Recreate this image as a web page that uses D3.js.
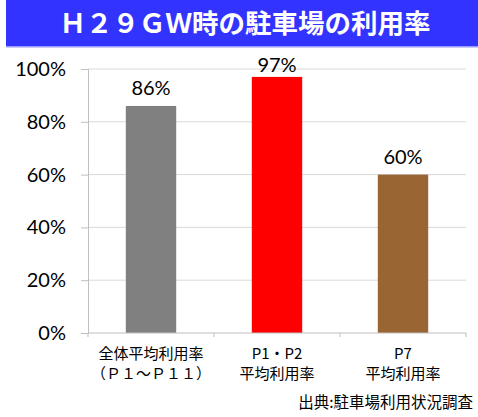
<!DOCTYPE html>
<html>
<head>
<meta charset="utf-8">
<script src="https://cdn.jsdelivr.net/npm/d3@7"></script>
<style>
  body { margin: 0; background: #fff; }
  svg text { font-family: Lato, "Open Sans", sans-serif; }
  .jp { font-family: "Noto Sans CJK JP", sans-serif; }
</style>
</head>
<body>
<div class="canvas"></div>
<script>
const categories = ['all', 'p12', 'p7'];
const labelLines = [
    ['全体平均利用率', '（Ｐ１～Ｐ１１）'],
    ['P1・P2', '平均利用率'],
    ['P7', '平均利用率']
];
const values = [86, 97, 60];
const barColors = ['#808080', '#ff0000', '#996633'];
const yTicks = [0, 20, 40, 60, 80, 100];

const dims = { width: 478, height: 417 };
const margin = { left: 88, right: 12, top: 69, bottom: 84 };

const svg = d3.select('.canvas')
    .append('svg')
    .attr('width', dims.width)
    .attr('height', dims.height);

// title banner
svg.append('rect')
    .attr('x', 6).attr('y', 0)
    .attr('width', 472).attr('height', 46)
    .attr('fill', '#3333ff');
svg.append('rect')
    .attr('x', 6).attr('y', 46)
    .attr('width', 472).attr('height', 1.5)
    .attr('fill', '#9999ff');
svg.append('text')
    .attr('class', 'jp')
    .attr('x', 245).attr('y', 33)
    .attr('text-anchor', 'middle')
    .attr('fill', '#fff')
    .attr('font-size', 26.5)
    .attr('font-weight', 'bold')
    .text('Ｈ２９ＧＷ時の駐車場の利用率');

const x = d3.scaleBand()
    .domain(categories)
    .range([margin.left, dims.width - margin.right])
    .paddingInner(0.6)
    .paddingOuter(0.3);

const y = d3.scaleLinear()
    .domain([0, 100])
    .range([dims.height - margin.bottom, margin.top]);

// gridlines
svg.append('g')
    .selectAll('line')
    .data(yTicks.filter(d => d > 0))
    .enter().append('line')
    .attr('x1', margin.left).attr('x2', dims.width - margin.right)
    .attr('y1', d => y(d)).attr('y2', d => y(d))
    .attr('stroke', '#d9d9d9');

// y axis
const yAxis = svg.append('g')
    .attr('transform', `translate(${margin.left},0)`)
    .call(d3.axisLeft(y).tickValues(yTicks).tickFormat(d => d + '%').tickSize(7).tickPadding(15));
yAxis.selectAll('line, path').attr('stroke', '#bfbfbf');
yAxis.selectAll('text')
    .attr('font-size', 20)
    .attr('fill', '#000')
    .attr('font-family', 'Lato, sans-serif');

// bars
svg.append('g')
    .selectAll('rect')
    .data(values)
    .enter().append('rect')
    .attr('x', (d, i) => x(categories[i]))
    .attr('y', d => y(d))
    .attr('width', x.bandwidth())
    .attr('height', d => y(0) - y(d))
    .attr('fill', (d, i) => barColors[i]);

// value labels (kept inside the plot area near the top)
svg.append('g')
    .selectAll('text')
    .data(values)
    .enter().append('text')
    .attr('x', (d, i) => x(categories[i]) + x.bandwidth() / 2)
    .attr('y', d => Math.max(y(d) - 11, margin.top + 3))
    .attr('text-anchor', 'middle')
    .attr('font-size', 20)
    .attr('fill', '#000')
    .text(d => d + '%');

// x axis
const xAxisY = y(0);
const xg = svg.append('g');
xg.append('line')
    .attr('x1', margin.left).attr('x2', dims.width - margin.right)
    .attr('y1', xAxisY).attr('y2', xAxisY)
    .attr('stroke', '#bfbfbf');
const step = x.step();
xg.selectAll('.tick')
    .data(d3.range(categories.length + 1))
    .enter().append('line')
    .attr('x1', i => margin.left + i * step).attr('x2', i => margin.left + i * step)
    .attr('y1', xAxisY).attr('y2', xAxisY + 4)
    .attr('stroke', '#bfbfbf');

labelLines.forEach((lines, i) => {
    const cx = x(categories[i]) + x.bandwidth() / 2;
    lines.forEach((t, j) => {
        xg.append('text')
            .attr('class', 'jp')
            .attr('x', cx)
            .attr('y', xAxisY + 26 + j * 20)
            .attr('text-anchor', 'middle')
            .attr('font-size', 15)
            .attr('fill', '#000')
            .text(t);
    });
});

// source
svg.append('text')
    .attr('class', 'jp')
    .attr('x', 473).attr('y', 408)
    .attr('text-anchor', 'end')
    .attr('font-size', 15.5)
    .attr('fill', '#000')
    .text('出典:駐車場利用状況調査');
</script>
</body>
</html>
